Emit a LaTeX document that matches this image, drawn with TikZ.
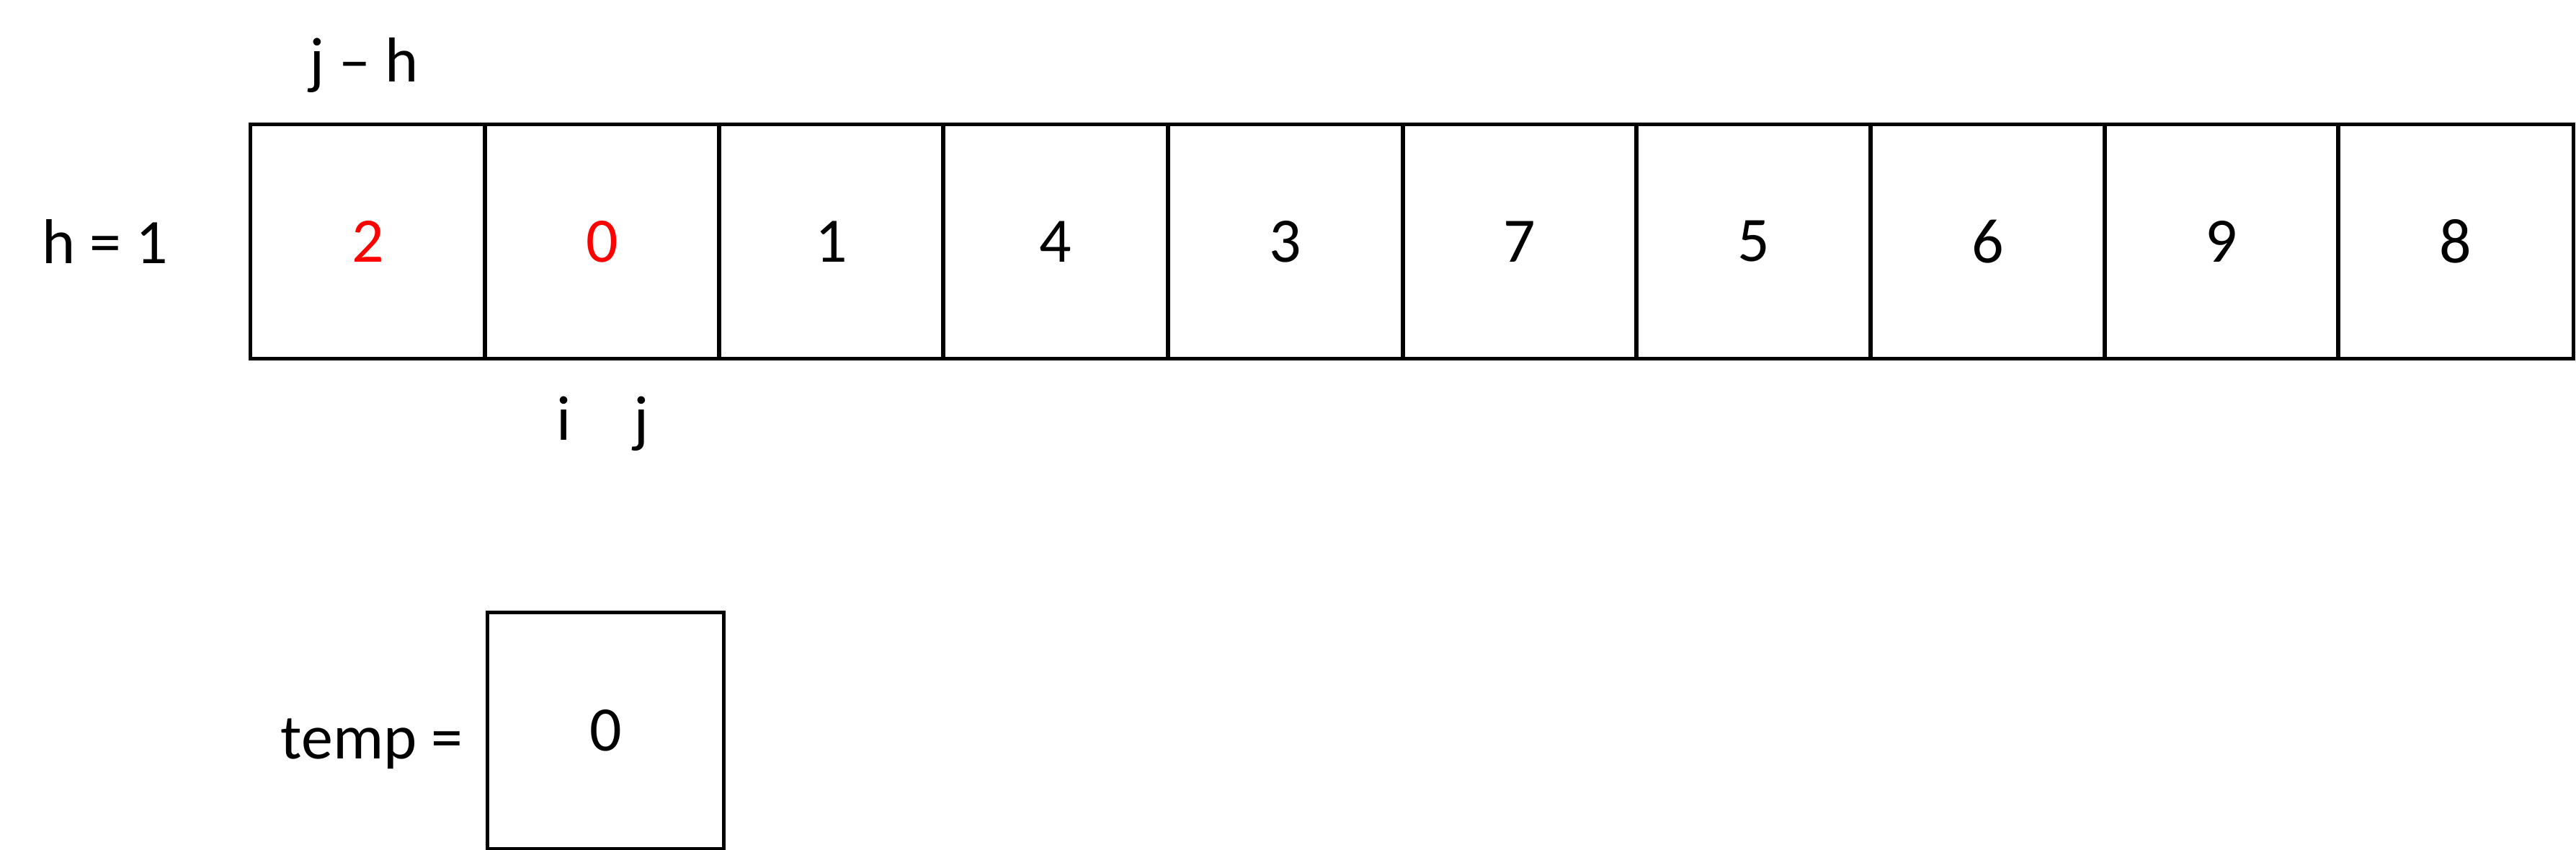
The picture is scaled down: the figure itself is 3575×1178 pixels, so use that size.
\documentclass[tikz,border=0pt]{standalone}
\usepackage{fontspec}
\setmainfont{Carlito}[Numbers=Lining]
\definecolor{hl}{HTML}{FF0000}
\begin{document}
\begin{tikzpicture}[x=0.01cm,y=-0.01cm,
  cell/.style={draw=black,line width=1.45pt,inner sep=0pt,minimum height=3.24cm,font=\fontsize{25}{29}\selectfont},
  lbl/.style={inner sep=0pt,anchor=base,font=\fontsize{25}{29}\selectfont}]
\useasboundingbox (0,0) rectangle (3575,1178);
\node[cell,minimum width=3.25cm,text=hl] (c1) at (510.5,335) {2};
\node[cell,minimum width=3.25cm,text=hl] (c2) at (835.5,335) {0};
\node[cell,minimum width=3.11cm] (c3) at (1153.5,335) {1};
\node[cell,minimum width=3.12cm] (c4) at (1465,335) {4};
\node[cell,minimum width=3.26cm] (c5) at (1784,335) {3};
\node[cell,minimum width=3.24cm] (c6) at (2109,335) {7};
\node[cell,minimum width=3.25cm] (c7) at (2433.5,335) {5};
\node[cell,minimum width=3.25cm] (c8) at (2758.5,335) {6};
\node[cell,minimum width=3.24cm] (c9) at (3083,335) {9};
\node[cell,minimum width=3.26cm] (c10) at (3408,335) {8};
\node[cell,minimum width=3.27cm,minimum height=3.27cm] (tmp) at (840.5,1013.5) {0};
\node[lbl] (hlab) at (146,365) {h = 1};
\node[lbl] (jh) at (505,113) {j – h};
\node[lbl] (ilab) at (783,610) {i};
\node[lbl] (jlab) at (890,610) {j};
\node[lbl] (templab) at (516,1052) {temp =};
\end{tikzpicture}
\end{document}
